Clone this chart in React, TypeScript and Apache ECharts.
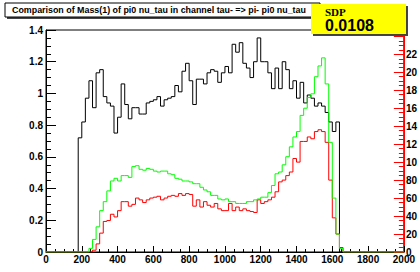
import React, { useEffect, useRef } from "react";
import * as echarts from "echarts";

// Histogram bins: width 20, range 0..2000
const binWidth = 20;
const xMin = 0;
const xMax = 2000;

// Black histogram (left axis), starting at 180
const blackStart = 180;
const blackValues = [
  0.72, 0.82, 0.97, 1.08, 0.91, 1.13, 1.15, 0.98, 0.94, 0.92,
  0.75, 0.85, 1.06, 0.93, 0.84, 0.91, 0.91, 0.87, 0.87, 0.94,
  0.95, 0.96, 0.98, 0.92, 0.96, 0.97, 0.98, 1.05, 1.01, 1.14,
  1.19, 1.08, 0.93, 1.09, 1.09, 1.06, 1.13, 1.15, 1.14, 1.07,
  1.13, 1.17, 1.13, 1.31, 1.26, 1.32, 1.19, 1.16, 1.1, 1.2,
  1.35, 1.2, 1.2, 1.13, 1.03, 1.16, 1.03, 1.2, 1.15, 1.03,
  1.08, 0.97, 1.07, 0.94, 0.99, 0.97, 0.92, 0.94, 0.92, 0.88,
  0.82, 0.76, 0.82,
];

// Green histogram (right axis), starting at 240
const greenStart = 240;
const greenValues = [
  4, 14, 28, 46, 56, 68, 79, 82, 79, 85,
  85, 83, 95, 96, 92, 91, 93, 92, 90, 89,
  90, 90, 87, 86, 82, 81, 79, 79, 78, 76,
  76, 72, 69, 67, 63, 63, 59, 58, 59, 56,
  56, 54, 54, 54, 56, 56, 58, 59, 61, 61,
  66, 74, 87, 89, 97, 106, 117, 128, 134, 152,
  160, 172, 176, 195, 207, 216, 187, 122, 60, 20,
  4,
];

// Red histogram (right axis), starting at 260
const redStart = 260;
const redValues = [
  2, 9, 21, 34, 35, 42, 39, 46, 56, 56,
  51, 53, 60, 58, 55, 58, 60, 61, 62, 58,
  60, 62, 63, 62, 65, 63, 65, 64, 51, 58,
  50, 56, 52, 50, 54, 48, 46, 46, 54, 46,
  50, 46, 48, 46, 45, 44, 58, 54, 56, 58,
  61, 67, 78, 80, 85, 89, 104, 100, 123, 123,
  128, 126, 134, 136, 134, 122, 80, 38, 20, 5,
];

const leftMax = 1.4;
const leftInterval = 0.2;
const rightMax = 247;
const rightInterval = 20;
const rightTickLabels = ["0", "20", "40", "60", "80", "10", "12", "14", "16", "18", "20", "22"];
const xInterval = 200;

const titleText = "Comparison of Mass(1) of pi0 nu_tau in channel tau- => pi- pi0 nu_tau";
const statName = "SDP";
const statValue = "0.0108";

function toSteps(start: number, values: number[]): [number, number][] {
  const pts: [number, number][] = [];
  const nBins = Math.round((xMax - xMin) / binWidth);
  const first = Math.round((start - xMin) / binWidth);
  for (let i = 0; i < nBins; i++) {
    const k = i - first;
    const v = k >= 0 && k < values.length ? values[k] : 0;
    pts.push([xMin + i * binWidth, v]);
  }
  pts.push([xMax, 0]);
  return pts;
}

const FONT = "'Liberation Sans', Arial, Helvetica, sans-serif";
const plain = (v: number) => String(Math.round(v * 1000) / 1000);

export default function App() {
  const ref = useRef<HTMLDivElement>(null);
  useEffect(() => {
    if (!ref.current) return;
    const chart = echarts.init(ref.current, undefined, { renderer: "svg" });
    const labelStyle = { color: "#000", fontFamily: FONT, fontSize: 10, fontWeight: "bold" as const };
    chart.setOption({
      animation: false,
      backgroundColor: "#fff",
      grid: { left: 46, right: 15, top: 30, bottom: 20, show: true, borderColor: "#000", borderWidth: 1, backgroundColor: "transparent" },
      xAxis: {
        type: "value",
        min: xMin,
        max: xMax,
        interval: xInterval,
        splitLine: { show: false },
        axisLine: { lineStyle: { color: "#000", width: 1 } },
        axisTick: { inside: true, length: 6, lineStyle: { color: "#000" } },
        minorTick: { show: true, splitNumber: 4, length: 3, lineStyle: { color: "#000" } },
        axisLabel: { ...labelStyle, margin: 2, formatter: plain },
      },
      yAxis: [
        {
          type: "value",
          min: 0,
          max: leftMax,
          interval: leftInterval,
          position: "left",
          splitLine: { show: false },
          axisLine: { show: true, lineStyle: { color: "#000", width: 1 } },
          axisTick: { inside: true, length: 10, lineStyle: { color: "#000" } },
          minorTick: { show: true, splitNumber: 4, length: 5, lineStyle: { color: "#000" } },
          axisLabel: { ...labelStyle, margin: 3, formatter: plain },
        },
        {
          type: "value",
          min: 0,
          max: rightMax,
          interval: rightInterval,
          position: "right",
          splitLine: { show: false },
          axisLine: { show: true, lineStyle: { color: "#ff0000", width: 1 } },
          axisTick: { inside: true, length: 10, lineStyle: { color: "#ff0000" } },
          minorTick: { show: true, splitNumber: 4, length: 5, lineStyle: { color: "#ff0000" } },
          axisLabel: {
            ...labelStyle,
            margin: 2,
            showMaxLabel: false,
            formatter: (v: number) => {
              const idx = Math.round(v / rightInterval);
              if (Math.abs(v - idx * rightInterval) > 1e-6) return "";
              return rightTickLabels[idx] ?? "";
            },
          },
        },
      ],
      series: [
        {
          type: "line",
          name: "black",
          yAxisIndex: 0,
          step: "end",
          symbol: "none",
          data: toSteps(blackStart, blackValues),
          lineStyle: { color: "#000", width: 1 },
          z: 3,
        },
        {
          type: "line",
          name: "red",
          yAxisIndex: 1,
          step: "end",
          symbol: "none",
          data: toSteps(redStart, redValues),
          lineStyle: { color: "#ff0000", width: 1 },
          z: 4,
        },
        {
          type: "line",
          name: "green",
          yAxisIndex: 1,
          step: "end",
          symbol: "none",
          data: toSteps(greenStart, greenValues),
          lineStyle: { color: "#00ff00", width: 1 },
          z: 5,
        },
      ],
      graphic: [
        { type: "rect", z: 100, shape: { x: 7, y: 5, width: 315, height: 14 }, style: { fill: "#444" } },
        { type: "rect", z: 101, shape: { x: 5, y: 3, width: 315, height: 14 }, style: { fill: "#fff", stroke: "#000", lineWidth: 1 } },
        {
          type: "text", z: 102, x: 12, y: 10,
          style: { text: titleText, fill: "#000", font: `bold 8.9px ${FONT}`, verticalAlign: "middle", align: "left" },
        },
        { type: "rect", z: 100, shape: { x: 313, y: 6, width: 95, height: 30 }, style: { fill: "#444" } },
        { type: "rect", z: 101, shape: { x: 311, y: 4, width: 95, height: 30 }, style: { fill: "#ffff00" } },
        {
          type: "text", z: 102, x: 325, y: 12,
          style: { text: statName, fill: "#000", font: `bold 11px 'Liberation Serif', 'DejaVu Serif', serif`, verticalAlign: "middle", align: "left" },
        },
        {
          type: "text", z: 102, x: 325, y: 25,
          style: { text: statValue, fill: "#000", font: `bold 16px ${FONT}`, verticalAlign: "middle", align: "left" },
        },
      ],
    });
    return () => chart.dispose();
  }, []);
  return (
    <div style={{ position: "fixed", left: 0, top: 0, width: 420, height: 272, background: "#fff" }}>
      <div ref={ref} style={{ width: 420, height: 272 }} />
    </div>
  );
}
